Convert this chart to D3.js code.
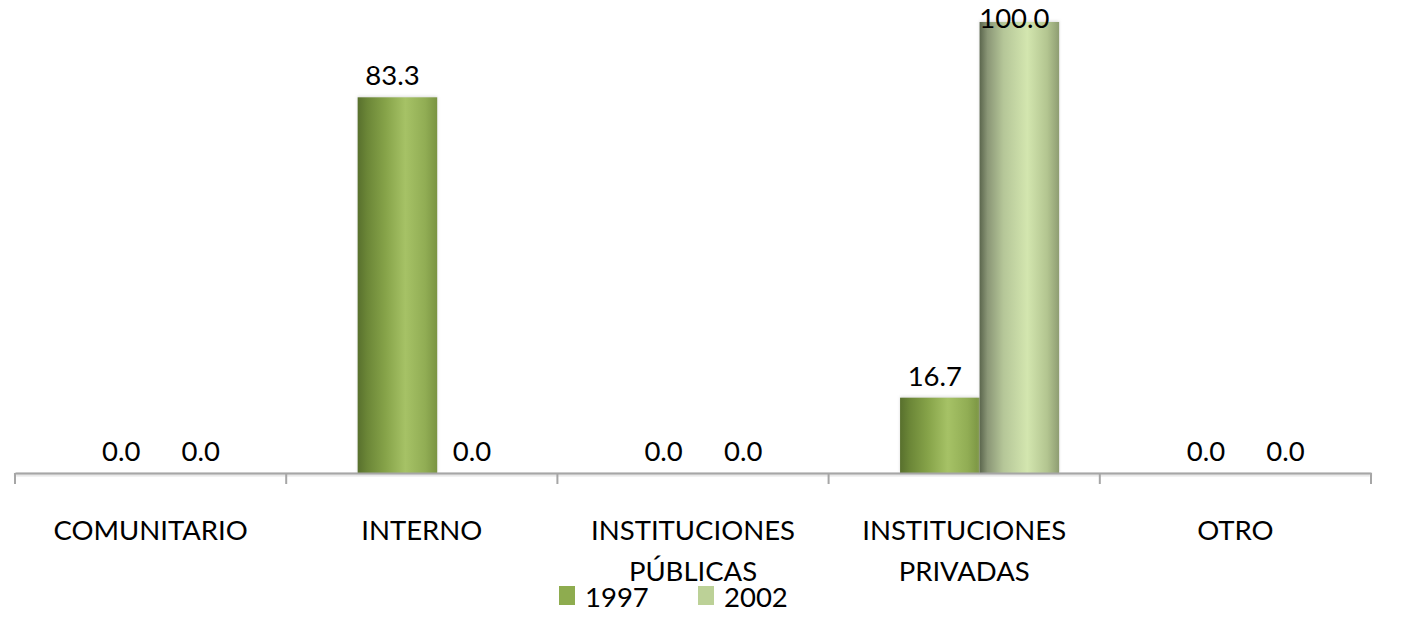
<!DOCTYPE html>
<html><head><meta charset="utf-8">
<script src="https://cdn.jsdelivr.net/npm/d3@7"></script>
<style>
html,body{margin:0;padding:0;background:#fff;}
svg{display:block;}
text{font-family:Lato,"Open Sans",sans-serif;fill:#000;}
</style></head>
<body>
<svg id="chart" width="1410" height="617"></svg>
<script>
const categories = ["COMUNITARIO", "INTERNO", "INSTITUCIONES PÚBLICAS", "INSTITUCIONES PRIVADAS", "OTRO"];
const categoryLines = [["COMUNITARIO"], ["INTERNO"], ["INSTITUCIONES", "PÚBLICAS"], ["INSTITUCIONES", "PRIVADAS"], ["OTRO"]];
const seriesNames = ["1997", "2002"];
const values1997 = [0.0, 83.3, 0.0, 16.7, 0.0];
const values2002 = [0.0, 0.0, 0.0, 100.0, 0.0];

const svg = d3.select("#chart");
const axisY = 473, topY = 22;
const fontSize = 27.5;

const x0 = d3.scaleBand().domain(categories).range([15, 1371]).paddingInner(0).paddingOuter(0);
const bw = x0.bandwidth();
const x1 = d3.scaleBand().domain(seriesNames).range([bw * 0.2635, bw * 0.85]).padding(0);
const y = d3.scaleLinear().domain([0, 100]).range([axisY, topY]);

const defs = svg.append("defs");
function grad(id, stops) {
  const g = defs.append("linearGradient").attr("id", id).attr("x1", "0%").attr("x2", "100%").attr("y1", "0%").attr("y2", "0%");
  stops.forEach(s => g.append("stop").attr("offset", s[0]).attr("stop-color", s[1]));
}
grad("g1997", [["0%", "#58702d"], ["12%", "#6b8637"], ["35%", "#86a349"], ["60%", "#a6c266"], ["85%", "#91ad54"], ["100%", "#7a9442"]]);
grad("g2002", [["0%", "#5b664d"], ["10%", "#8a9676"], ["30%", "#b5c698"], ["60%", "#d3e6af"], ["85%", "#b3c590"], ["100%", "#8e9d72"]]);
const blur = defs.append("filter").attr("id", "soft").attr("x", "-10%").attr("y", "-10%").attr("width", "120%").attr("height", "130%");
blur.append("feGaussianBlur").attr("stdDeviation", 1.5);

const series = [
  {name: "1997", values: values1997, fill: "url(#g1997)", legend: "#8eac4f"},
  {name: "2002", values: values2002, fill: "url(#g2002)", legend: "#bcd197"}
];

svg.append("rect").attr("x", 15).attr("y", axisY).attr("width", 1356).attr("height", 3).attr("fill", "#d9d9d9").attr("filter", "url(#soft)");

const gBars = svg.append("g");
series.forEach(s => {
  categories.forEach((c, i) => {
    const v = s.values[i];
    if (v <= 0) return;
    const bx = x0(c) + x1(s.name);
    gBars.append("rect").attr("x", bx).attr("y", y(v) - 1).attr("width", x1.bandwidth()).attr("height", axisY - y(v) + 1)
      .attr("fill", "#bbb").attr("opacity", 0.5).attr("filter", "url(#soft)");
    gBars.append("rect").attr("x", bx).attr("y", y(v)).attr("width", x1.bandwidth()).attr("height", axisY - y(v))
      .attr("fill", s.fill);
  });
});

const axis = d3.axisBottom(x0).tickSize(0).tickFormat("");
const gAxis = svg.append("g").attr("transform", `translate(0,${axisY})`).call(axis);
gAxis.select(".domain").attr("stroke", "#a6a6a6").attr("stroke-width", 2);
const tickXs = categories.map(c => x0(c)).concat([x0.range()[1]]);
gAxis.selectAll("line.tk").data(tickXs).enter().append("line").attr("class", "tk")
  .attr("x1", d => d).attr("x2", d => d).attr("y1", 0).attr("y2", 11)
  .attr("stroke", "#a6a6a6").attr("stroke-width", 2);

categories.forEach((c, i) => {
  const t = svg.append("text").attr("x", x0(c) + bw / 2).attr("y", 540).attr("text-anchor", "middle")
    .attr("font-size", fontSize).attr("textLength", null);
  categoryLines[i].forEach((ln, j) => {
    t.append("tspan").attr("x", x0(c) + bw / 2).attr("dy", j === 0 ? 0 : 41).text(ln);
  });
});

series.forEach(s => {
  categories.forEach((c, i) => {
    const v = s.values[i];
    const cx = x0(c) + x1(s.name) + x1.bandwidth() / 2 - 5;
    const by = Math.max(y(v) - 12, 28);
    svg.append("text").attr("x", cx).attr("y", by).attr("text-anchor", "middle").attr("font-size", fontSize).text(v.toFixed(1));
  });
});

const legX = [559, 698];
series.forEach((s, k) => {
  svg.append("rect").attr("x", legX[k]).attr("y", 586).attr("width", 16).attr("height", 19).attr("fill", s.legend);
  svg.append("text").attr("x", legX[k] + 26).attr("y", 607).attr("font-size", fontSize).text(s.name);
});
</script>
</body></html>
